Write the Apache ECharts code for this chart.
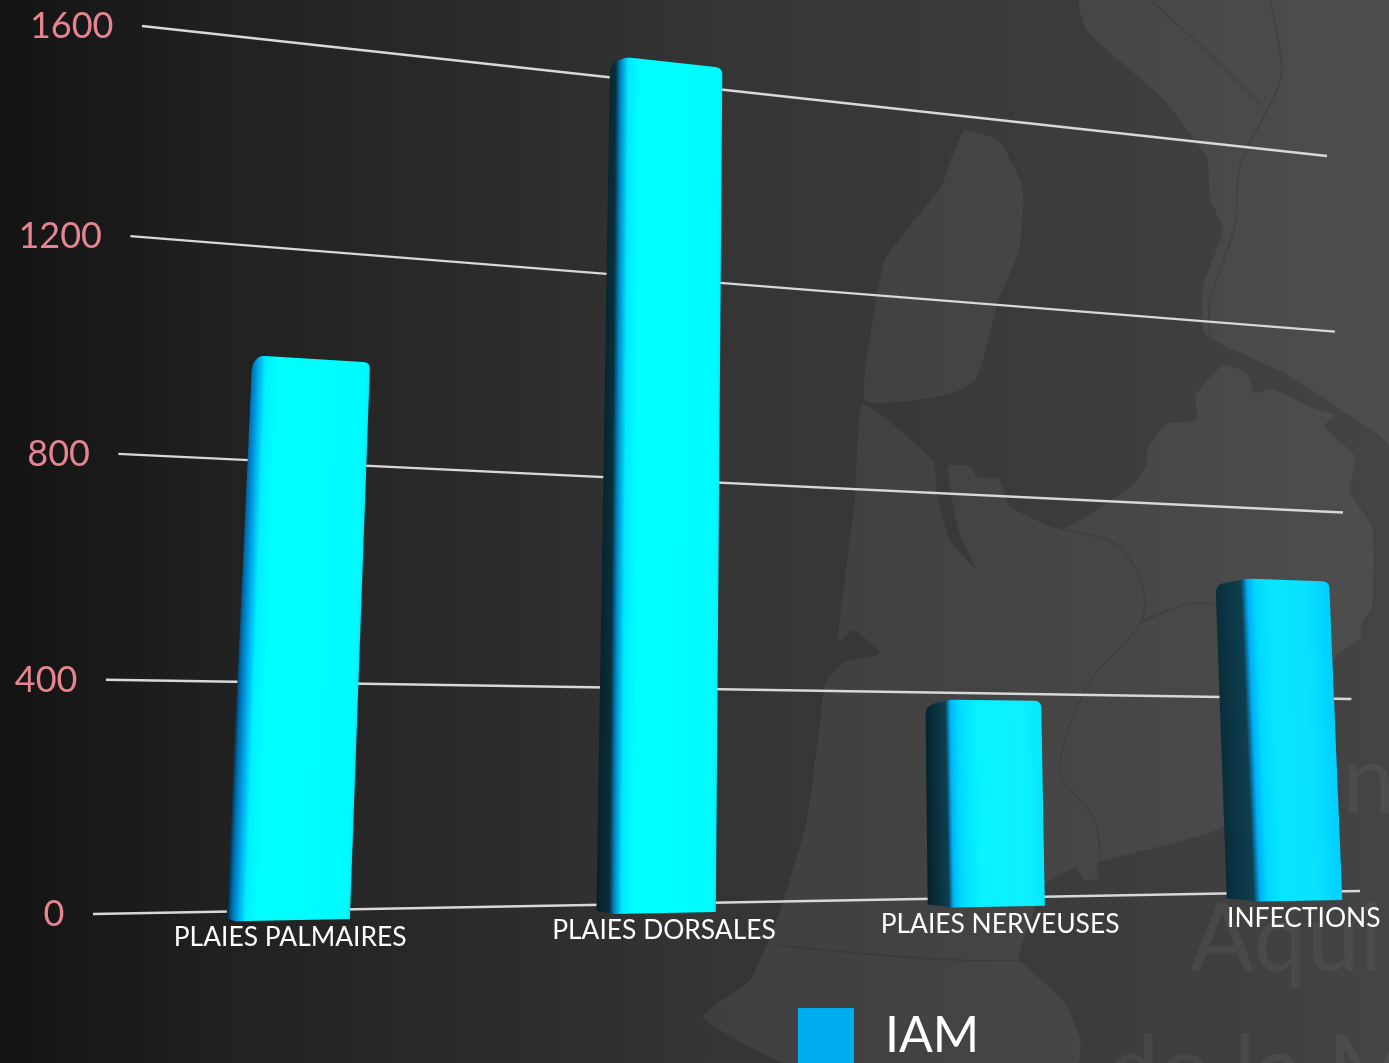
<!DOCTYPE html>
<html>
<head>
<meta charset="utf-8">
<style>html,body{margin:0;padding:0;background:#222;overflow:hidden}#c{width:1389px;height:1063px}</style>
<script src="https://cdn.jsdelivr.net/npm/echarts@6/dist/echarts.min.js"></script>
</head>
<body>
<div id="c"></div>
<script>
const categories = ['PLAIES PALMAIRES', 'PLAIES DORSALES', 'PLAIES NERVEUSES', 'INFECTIONS'];
const iamValues = [975, 1600, 388, 640];
const tickValues = [0, 400, 800, 1200, 1600];
const seriesName = 'IAM';

// perspective of the chart walls (unit square -> screen)
const backQuad = [[142, 26], [1327, 156], [1360, 891], [93, 914]];
const frontQuad = [[143, 4], [1404, 143], [1441, 898], [91, 924]];

function homography(q) {
  const [[x0, y0], [x1, y1], [x2, y2], [x3, y3]] = q;
  const dx1 = x1 - x2, dx2 = x3 - x2, sx = x0 - x1 + x2 - x3;
  const dy1 = y1 - y2, dy2 = y3 - y2, sy = y0 - y1 + y2 - y3;
  const den = dx1 * dy2 - dx2 * dy1;
  const g = (sx * dy2 - dx2 * sy) / den, h = (dx1 * sy - sx * dy1) / den;
  const a = x1 - x0 + g * x1, b = x3 - x0 + h * x3, d = y1 - y0 + g * y1, e = y3 - y0 + h * y3;
  return (u, v) => {
    const w = g * u + h * v + 1;
    return [(a * u + b * v + x0) / w, (d * u + e * v + y0) / w];
  };
}
const backH = homography(backQuad), frontH = homography(frontQuad);
const norm = (cs, p) => [(p[0] - cs.x) / cs.width, (p[1] - cs.y) / cs.height];

function roundPoly(pts, radii) {
  const out = [], n = pts.length;
  for (let i = 0; i < n; i++) {
    const p = pts[i], r = radii[i];
    if (!r) { out.push(p); continue; }
    const a = pts[(i + n - 1) % n], b = pts[(i + 1) % n];
    const la = Math.hypot(a[0] - p[0], a[1] - p[1]), lb = Math.hypot(b[0] - p[0], b[1] - p[1]);
    const s = [p[0] + (a[0] - p[0]) * r / la, p[1] + (a[1] - p[1]) * r / la];
    const t = [p[0] + (b[0] - p[0]) * r / lb, p[1] + (b[1] - p[1]) * r / lb];
    for (let k = 0; k <= 8; k++) {
      const m = k / 8, q = 1 - m;
      out.push([q * q * s[0] + 2 * q * m * p[0] + m * m * t[0], q * q * s[1] + 2 * q * m * p[1] + m * m * t[1]]);
    }
  }
  return out;
}

// shading per bar: [multiple of the side width, colour]; after the side: [fraction of face width, colour]
const sideStops = [
  [[0, '#05202a'], [0.6, '#0070b0'], [1.3, '#00a8ec'], [2.1, '#00f0ff']],
  [[0, '#07202a'], [0.75, '#0a2f3a'], [1.05, '#0088c8'], [1.5, '#00e8ff']],
  [[0, '#06202a'], [0.85, '#0d3f50'], [1.05, '#00b4f8'], [1.35, '#00d8ff']],
  [[0, '#0a2c3a'], [0.85, '#0d3f50'], [1.05, '#00aef8'], [1.3, '#00d8ff']]
];
const faceStops = [
  [[0.2, '#00ffff'], [0.97, '#00fbff'], [1, '#00e8ff']],
  [[0.2, '#00ffff'], [0.97, '#00fbff'], [1, '#00e8ff']],
  [[0.3, '#08f2ff'], [0.8, '#0cefff'], [1, '#08e6ff']],
  [[0.3, '#08e6ff'], [0.7, '#08e2ff'], [1, '#00ceff']]
];

function renderBar(params, api) {
  const cs = params.coordSys, i = api.value(0), val = api.value(1);
  const base = norm(cs, api.coord([i, 0])), top = norm(cs, api.coord([i, val]));
  const half = api.size([1, 0])[0] * 0.1455 / cs.width;
  const bl = frontH(base[0] - half, base[1]), br = frontH(base[0] + half, base[1]);
  const tl = frontH(top[0] - half, top[1]), tr = frontH(top[0] + half, top[1]);
  const depth = Math.max(9, 17 + 0.0233 * (bl[0] - 615));
  const bb = [bl[0] - depth, bl[1] - 3], bt = [tl[0] - depth, tl[1] + 6];
  const poly = roundPoly([bb, bl, br, tr, tl, bt], [0, 0, 0, 7, 4, 9]);
  // gradient running across the leaning bar
  const lx = tr[0] - br[0], ly = tr[1] - br[1], ll = Math.hypot(lx, ly);
  const nx = -ly / ll, ny = lx / ll;
  const span = (br[0] - bb[0]) * nx + (br[1] - bb[1]) * ny;
  const sx = bb[0], sy = bb[1], ex = sx + nx * span, ey = sy + ny * span;
  const f = ((bl[0] - bb[0]) * nx + (bl[1] - bb[1]) * ny) / span;
  const stops = [];
  sideStops[i].forEach(s => stops.push({ offset: Math.min(1, s[0] * f), color: s[1] }));
  faceStops[i].forEach(s => stops.push({ offset: f + s[0] * (1 - f), color: s[1] }));
  stops.sort((a, b) => a.offset - b.offset);
  return {
    type: 'polygon',
    shape: { points: poly },
    style: { fill: new echarts.graphic.LinearGradient(sx, sy, ex, ey, stops, true) }
  };
}

function renderGridline(params, api) {
  const cs = params.coordSys, val = api.value(1);
  const v = norm(cs, api.coord([0, val]))[1];
  const a = backH(0, v), b = backH(1, v);
  return {
    type: 'group',
    children: [
      { type: 'line', shape: { x1: a[0], y1: a[1], x2: b[0], y2: b[1] }, style: { stroke: '#d8d8d8', lineWidth: 2.5 } },
      { type: 'text', style: { x: a[0] - 28.5, y: a[1] + 0.5, text: String(val), fill: '#e5858f', font: '36px Lato', align: 'right', verticalAlign: 'middle' } }
    ]
  };
}

function renderCategory(params, api) {
  const cs = params.coordSys, i = api.value(0);
  const n = norm(cs, api.coord([i, 0]));
  const p = frontH(n[0], n[1]);
  return {
    type: 'text',
    style: { x: p[0] - 3 + 2 * i, y: p[1] + 17.5, text: categories[i], fill: '#ffffff', font: '26.4px Lato', align: 'center', verticalAlign: 'middle' }
  };
}

// faint map behind the chart
const mapFill = 'rgba(255,255,255,0.055)';
const mapLine = 'rgba(30,30,30,0.2)';
const mapShapes = [
  [[1080,0],[1087,31],[1161,97],[1207,158],[1210,198],[1223,228],[1221,239],[1203,286],[1205,334],[1284,373],[1379,435],[1389,445],[1389,0]],
  [[964,131],[999,141],[1023,189],[1019,250],[999,299],[977,378],[948,395],[865,401],[878,290],[885,259],[931,200],[942,185]],
  [[863,404],[933,461],[937,496],[950,540],[976,569],[959,532],[948,466],[970,466],[977,477],[999,479],[1010,507],[1062,529],[1113,499],[1133,485],[1146,466],[1148,448],[1166,424],[1196,420],[1196,395],[1223,365],[1247,373],[1254,393],[1271,389],[1315,409],[1335,415],[1324,426],[1355,457],[1350,492],[1372,527],[1372,606],[1361,624],[1361,637],[1337,655],[1333,663],[1270,750],[1220,828],[1097,863],[1098,878],[1085,880],[1075,868],[1045,885],[1020,950],[1020,960],[1065,1003],[1080,1040],[1078,1063],[787,1063],[703,1017],[750,980],[777,920],[807,820],[823,697],[825,683],[843,663],[880,653],[853,630],[838,642],[855,500]]
];
const mapLines = [
  [[1150,0],[1200,45],[1265,108]],
  [[1270,0],[1282,70],[1275,95],[1240,165],[1235,225],[1210,300],[1210,335]],
  [[1062,529],[1117,545],[1142,584],[1141,622],[1089,683],[1060,770],[1095,820],[1100,860]],
  [[1141,622],[1188,604],[1216,604]],
  [[775,945],[880,955],[960,960],[1020,960]]
];
const ghostTexts = [['Aqui', 1190, 988], ['n', 1342, 830], ['de la M', 1106, 1120]];

const graphicEls = [];
mapShapes.forEach(p => graphicEls.push({ type: 'polygon', z: 0, silent: true, shape: { points: p, smooth: 0.15 }, style: { fill: mapFill } }));
mapLines.forEach(p => graphicEls.push({ type: 'polyline', z: 0, silent: true, shape: { points: p, smooth: 0.3 }, style: { stroke: mapLine, lineWidth: 1.5, fill: null } }));
ghostTexts.forEach(t => graphicEls.push({ type: 'text', z: 0, silent: true, style: { x: t[1], y: t[2], text: t[0], fill: 'rgba(255,255,255,0.05)', font: '95px Lato', verticalAlign: 'bottom' } }));

const chart = echarts.init(document.getElementById('c'), null, { renderer: 'canvas' });
chart.setOption({
  animation: false,
  backgroundColor: new echarts.graphic.LinearGradient(0, 0, 1, 0, [
    { offset: 0, color: '#131313' },
    { offset: 0.15, color: '#202020' },
    { offset: 0.3, color: '#282828' },
    { offset: 0.5, color: '#343434' },
    { offset: 0.85, color: '#3e3e3e' },
    { offset: 1, color: '#444444' }
  ]),
  grid: { left: 100, top: 26, width: 1200, height: 888 },
  xAxis: { type: 'category', data: categories, show: false },
  yAxis: { type: 'value', min: 0, max: 1600, interval: 400, show: false },
  legend: {
    left: 798, top: 1008, itemWidth: 56, itemHeight: 56, itemGap: 0, padding: 0, selectedMode: false,
    data: [{ name: seriesName, icon: 'rect' }],
    textStyle: { color: '#ffffff', fontSize: 50, fontFamily: 'Lato', padding: [0, 0, 0, 26] }
  },
  graphic: { elements: graphicEls },
  series: [
    { name: 'grid', type: 'custom', z: 2, silent: true, renderItem: renderGridline, data: tickValues.map(v => [0, v]), encode: { x: 0, y: 1 } },
    { name: seriesName, type: 'custom', z: 3, silent: true, renderItem: renderBar, itemStyle: { color: '#00adf0' }, data: iamValues.map((v, i) => [i, v]), encode: { x: 0, y: 1 } },
    { name: 'labels', type: 'custom', z: 4, silent: true, renderItem: renderCategory, data: categories.map((c, i) => [i, 0]), encode: { x: 0, y: 1 } }
  ]
});
</script>
</body>
</html>
